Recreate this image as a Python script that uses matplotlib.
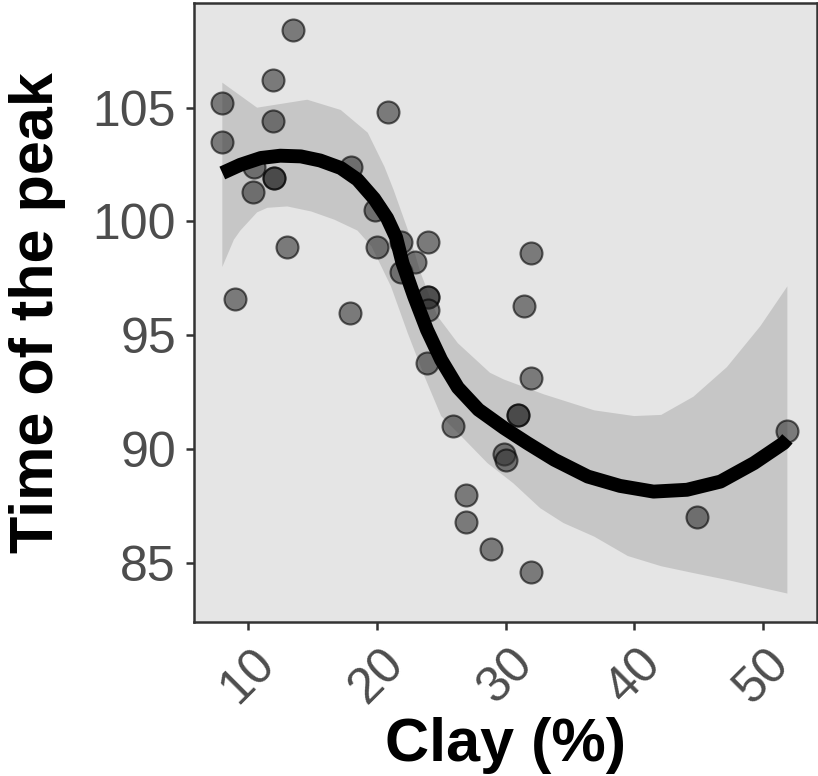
import numpy as np
import matplotlib
matplotlib.use("Agg")
import matplotlib.pyplot as plt

# Clay content (%) vs time of the peak
clay = [8.0, 8.0, 9.0, 10.4, 10.5, 11.9, 11.9, 12.0, 12.0, 13.0, 13.5,
        17.9, 18.0, 19.9, 20.0, 20.9, 21.9, 21.9, 23.0, 24.0, 24.0, 24.0,
        24.0, 23.9, 25.9, 26.9, 26.9, 28.9, 29.9, 30.0, 31.0, 31.0, 31.4,
        32.0, 32.0, 32.0, 44.9, 51.9]
peak = [105.2, 103.5, 96.6, 101.3, 102.4, 106.2, 104.4, 101.9, 101.9, 98.9, 108.4,
        96.0, 102.4, 100.5, 98.9, 104.8, 99.1, 97.8, 98.2, 99.1, 96.7, 96.7,
        96.1, 93.8, 91.0, 88.0, 86.8, 85.6, 89.8, 89.5, 91.5, 91.5, 96.3,
        98.6, 93.1, 84.6, 87.0, 90.8]

# smoothed fit and its confidence band
fit_x = [8.0, 9.4, 11.0, 12.5, 14.1, 15.6, 17.2, 18.5, 19.8, 20.8, 21.5, 22.0,
         22.9, 23.9, 25.0, 26.3, 27.9, 29.9, 31.7, 33.8, 36.4, 38.9, 41.5, 44.1,
         46.7, 49.3, 51.6, 51.9]
fit_y = [102.13, 102.49, 102.79, 102.89, 102.86, 102.68, 102.35, 101.84, 101.0, 100.15, 99.3, 98.17,
         96.71, 95.24, 93.92, 92.7, 91.73, 90.92, 90.26, 89.53, 88.79, 88.38, 88.13, 88.21,
         88.57, 89.38, 90.26, 90.45]

upper_x = [8.0, 10.7, 14.6, 17.2, 19.3, 20.6, 21.3, 22.4, 23.4, 24.7, 26.3, 28.8,
           29.9, 33.0, 36.9, 40.0, 42.1, 44.6, 47.2, 49.8, 51.9]
upper_y = [106.1, 105.0, 105.35, 104.9, 103.9, 102.4, 101.4, 99.65, 97.75, 95.85, 94.65, 93.35,
           93.05, 92.4, 91.7, 91.45, 91.5, 92.3, 93.6, 95.4, 97.15]

lower_x = [8.0, 8.9, 9.4, 10.7, 11.5, 13.05, 14.9, 16.7, 18.5, 19.6, 21.1, 22.4,
           23.7, 25.0, 26.5, 28.6, 30.6, 32.7, 34.5, 36.9, 39.5, 42.1, 44.6, 47.2, 51.9]
lower_y = [98.0, 99.2, 99.6, 100.4, 100.6, 100.66, 100.44, 100.08, 99.6, 98.9, 97.15, 95.1,
           93.2, 91.45, 90.6, 89.38, 88.5, 87.4, 86.75, 86.15, 85.3, 84.85, 84.55, 84.25, 83.65]

x_ticks = [10, 20, 30, 40, 50]
y_ticks = [85, 90, 95, 100, 105]

plt.rcParams['font.family'] = ['Liberation Sans', 'DejaVu Sans']

fig = plt.figure(figsize=(8.18, 7.76), dpi=100)
ax = fig.add_axes([194 / 818, 1 - 622 / 776, 623 / 818, 619 / 776])
ax.set_facecolor('#e5e5e5')

band_x = np.concatenate([upper_x, lower_x[::-1]])
band_y = np.concatenate([upper_y, lower_y[::-1]])
ax.fill(band_x, band_y, color='#999999', alpha=0.4, lw=0, zorder=1)

ax.scatter(clay, peak, s=250, facecolor='#333333', edgecolor='black',
           linewidths=1.5, alpha=0.6, zorder=2)

ax.plot(fit_x, fit_y, color='black', lw=10, solid_capstyle='butt',
        solid_joinstyle='round', zorder=3)

ax.set_xlim(5.8, 54.2)
ax.set_ylim(82.4, 109.6)
ax.set_xticks(x_ticks)
ax.set_yticks(y_ticks)

for s in ax.spines.values():
    s.set_color('#333333')
    s.set_linewidth(1.8)

ax.tick_params(axis='both', color='#333333', width=1.8, length=6,
               labelsize=36, labelcolor='#4d4d4d')
ax.tick_params(axis='y', pad=7)
ax.tick_params(axis='x', pad=7)
for lab in ax.get_xticklabels():
    lab.set_rotation(45)
    lab.set_ha('center')
    lab.set_va('top')

ax.set_xlabel('Clay (%)', fontsize=44, fontweight='bold', va='top')
ax.xaxis.set_label_coords(0.5, -0.153)
ax.set_ylabel('Time of the peak', fontsize=44, fontweight='bold', labelpad=19)

fig.savefig('out.png', dpi=100)
